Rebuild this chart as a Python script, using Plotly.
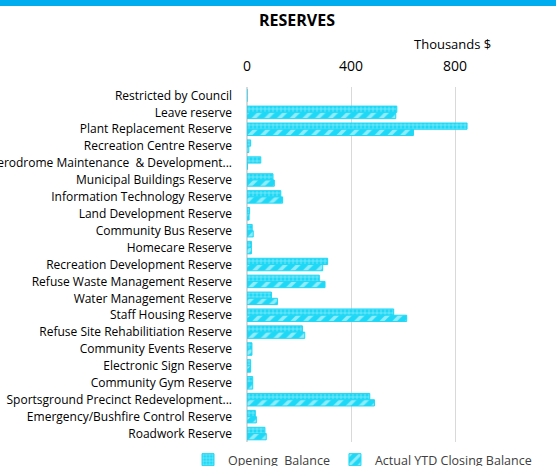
import plotly.graph_objects as go

# reserve names, top to bottom
reserves = [
    "Restricted by Council",
    "Leave reserve",
    "Plant Replacement Reserve",
    "Recreation Centre Reserve",
    "Aerodrome Maintenance  & Development...",
    "Municipal Buildings Reserve",
    "Information Technology Reserve",
    "Land Development Reserve",
    "Community Bus Reserve",
    "Homecare Reserve",
    "Recreation Development Reserve",
    "Refuse Waste Management Reserve",
    "Water Management Reserve",
    "Staff Housing Reserve",
    "Refuse Site Rehabilitiation Reserve",
    "Community Events Reserve",
    "Electronic Sign Reserve",
    "Community Gym Reserve",
    "Sportsground Precinct Redevelopment...",
    "Emergency/Bushfire Control Reserve",
    "Roadwork Reserve",
]

# thousands of dollars
opening_balance = [0, 576, 846, 14, 53, 100, 130, 10, 20, 17, 310, 278, 94,
                   564, 213, 19, 14, 22, 472, 32, 69]
closing_balance = [0, 572, 640, 7, 2, 105, 137, 8, 24, 17, 291, 300, 117,
                   614, 222, 19, 14, 22, 490, 36, 74]

W, H = 556, 466
top, bottom = 87, 442
left = 247

cyan = "#1FD8F5"
font = "Open Sans"

fig = go.Figure()
fig.add_trace(go.Bar(
    y=reserves, x=opening_balance, orientation="h", name="Opening  Balance",
    marker=dict(color=cyan, line=dict(color=cyan, width=1),
                pattern=dict(shape="+", fgcolor="white", bgcolor=cyan,
                             size=4, solidity=0.3)),
))
fig.add_trace(go.Bar(
    y=reserves, x=closing_balance, orientation="h", name="Actual YTD Closing Balance",
    marker=dict(color=cyan, line=dict(color=cyan, width=1),
                pattern=dict(shape="/", fgcolor="white", bgcolor=cyan,
                             size=9, solidity=0.4)),
))

fig.update_layout(
    width=W, height=H,
    margin=dict(l=0, r=0, t=top, b=H - bottom, autoexpand=False),
    paper_bgcolor="white", plot_bgcolor="white",
    font=dict(family=font, size=12, color="#262626"),
    barmode="group", bargap=0.26, bargroupgap=0.0,
    title=dict(text="<b>RESERVES</b>", x=297 / W, xanchor="center",
               y=1 - 20 / H, yanchor="middle",
               font=dict(size=16, color="#000000")),
    xaxis=dict(side="top", range=[0, 1188], tickvals=[0, 400, 800],
               domain=[left / W, 1], automargin=False,
               showgrid=True, gridcolor="#d9d9d9", gridwidth=1,
               zeroline=True, zerolinecolor="#d9d9d9",
               ticklabelstandoff=12, tickfont=dict(size=14, color="#000000")),
    yaxis=dict(autorange="reversed", showgrid=False, ticklabelstandoff=14,
               tickfont=dict(size=12, color="#000000"), automargin=False),
    legend=dict(orientation="h", x=188 / W, xanchor="left",
                y=-(460 - bottom) / (bottom - top), yanchor="middle",
                itemwidth=30, font=dict(size=12.5, color="#404040"),
                traceorder="normal"),
    showlegend=True,
)

fig.add_annotation(text="Thousands $", xref="paper", yref="paper",
                   x=452 / W, y=1 + (top - 44) / (bottom - top),
                   xanchor="center", yanchor="middle",
                   showarrow=False, font=dict(size=13, color="#000000"))

# blue band along the top edge
fig.add_shape(type="rect", xref="paper", yref="paper",
              x0=0, x1=1, y0=1 + (top - 6) / (bottom - top),
              y1=1 + top / (bottom - top),
              fillcolor="#00AEEF", line_width=0, layer="above")

# drop the page's default body margin so the figure sits at the window corner
fig.write_html("out.html", config={"displayModeBar": False},
               post_script="document.body.style.margin='0';")
